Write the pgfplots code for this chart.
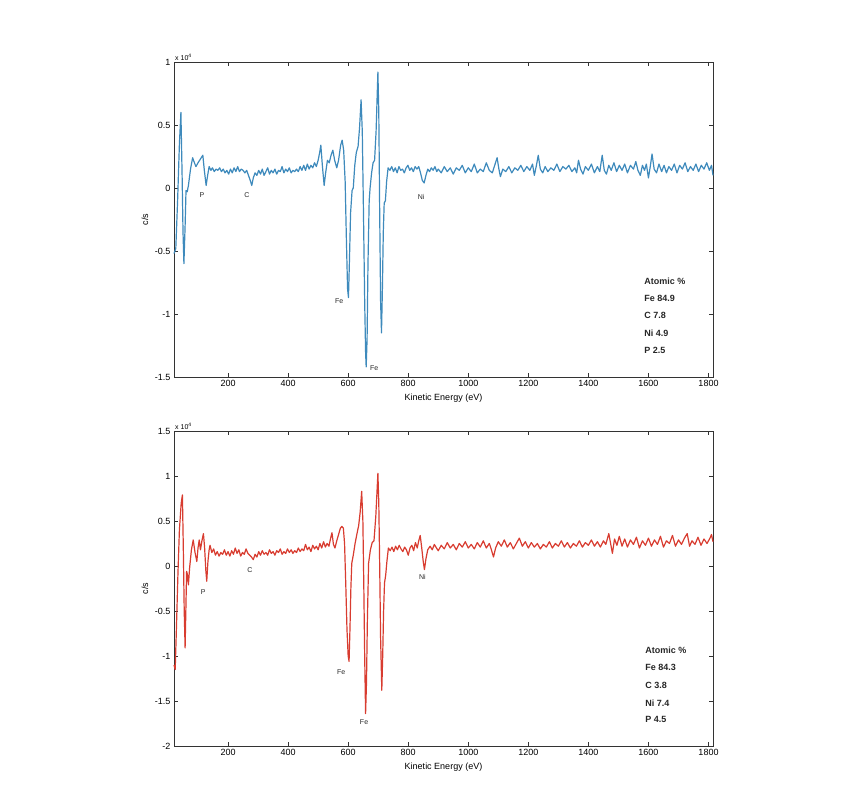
\documentclass[border=0pt]{standalone}
\usepackage{fontspec}
\setmainfont{Liberation Sans}
\usepackage{pgfplots}
\pgfplotsset{compat=1.18}
\definecolor{topblue}{RGB}{62,138,188}
\definecolor{botred}{RGB}{216,60,48}
\pgfplotsset{
  common/.style={
    width=539pt, height=315pt, scale only axis,
    xmin=20, xmax=1815,
    xtick={200,400,...,1800},
    tick label style={font=\fontsize{9}{10}\selectfont},
    label style={font=\fontsize{9}{10}\selectfont},
    /pgf/number format/assume math mode=true,
    /pgf/number format/1000 sep={},
    xlabel={Kinetic Energy (eV)},
    ylabel={c/s},
    axis line style={black!80, line width=0.9pt},
    tick style={black!80, line width=0.8pt},
    major tick length=4pt,
    clip=false,
  },
}
\tikzset{
  elab/.style={font=\fontsize{7}{8}\selectfont, black!85},
  atom/.style={font=\bfseries\fontsize{9}{10}\selectfont, anchor=west, black!85},
}
\begin{document}
\begin{tikzpicture}
\useasboundingbox (0,0) rectangle (850pt,790pt);
% ---------------- top panel ----------------
\begin{axis}[common, at={(174pt,413pt)}, anchor=south west,
  ymin=-1.5, ymax=1, ytick={-1.5,-1,...,1}]
\addplot[topblue, line width=1.2pt, line join=round] table {
x y
20 -0.52
26 -0.48
32 -0.10
38 0.35
43 0.60
47 0.10
50 -0.35
53 -0.60
57 -0.30
60 -0.02
64 -0.03
68 0.02
75 0.15
82 0.24
88 0.20
93 0.17
100 0.20
108 0.23
116 0.26
121 0.14
127 0.02
132 0.10
137 0.17
143 0.14
148 0.16
154 0.13
160 0.15
166 0.14
172 0.16
178 0.13
184 0.15
190 0.12
196 0.14
202 0.11
208 0.15
214 0.12
220 0.16
226 0.13
232 0.17
238 0.13
244 0.15
250 0.14
256 0.12
262 0.14
268 0.10
274 0.06
279 0.02
284 0.08
290 0.12
296 0.10
302 0.14
308 0.11
314 0.15
320 0.10
326 0.13
332 0.16
338 0.11
344 0.14
350 0.12
356 0.15
362 0.11
368 0.14
374 0.13
380 0.17
386 0.12
392 0.15
398 0.13
404 0.16
410 0.12
416 0.14
422 0.13
428 0.15
434 0.13
440 0.17
446 0.14
452 0.18
458 0.14
464 0.19
470 0.15
476 0.18
482 0.16
488 0.20
494 0.17
500 0.22
505 0.28
509 0.34
514 0.18
520 0.02
525 0.12
531 0.22
537 0.20
543 0.26
549 0.30
555 0.22
562 0.16
568 0.22
575 0.34
580 0.38
585 0.30
590 0.05
594 -0.40
598 -0.80
601 -0.87
604 -0.60
608 -0.20
613 -0.02
617 0.00
622 0.18
627 0.28
633 0.33
638 0.48
643 0.70
647 0.45
651 -0.20
655 -0.90
658 -1.30
660 -1.42
663 -1.20
666 -0.60
670 -0.10
673 0.00
678 0.12
683 0.20
688 0.22
693 0.45
699 0.92
702 0.60
705 -0.20
708 -0.90
711 -1.15
714 -0.80
717 -0.35
720 -0.12
724 -0.10
728 0.05
733 0.16
739 0.14
745 0.17
751 0.13
757 0.16
763 0.12
769 0.17
775 0.14
781 0.15
787 0.12
793 0.16
799 0.18
805 0.14
811 0.16
817 0.13
823 0.17
829 0.15
835 0.17
841 0.12
847 0.06
853 0.04
859 0.10
865 0.15
871 0.13
877 0.16
883 0.14
889 0.17
895 0.13
900 0.15
910 0.12
920 0.17
930 0.13
940 0.16
950 0.11
960 0.16
970 0.14
980 0.18
990 0.12
1000 0.16
1010 0.13
1020 0.19
1030 0.12
1040 0.15
1050 0.13
1060 0.20
1070 0.14
1080 0.12
1088 0.18
1096 0.24
1102 0.15
1107 0.09
1115 0.15
1125 0.13
1135 0.17
1145 0.12
1155 0.16
1165 0.14
1175 0.18
1185 0.13
1195 0.17
1205 0.14
1214 0.19
1220 0.10
1227 0.18
1233 0.26
1240 0.15
1248 0.12
1256 0.17
1265 0.13
1275 0.16
1285 0.14
1295 0.19
1305 0.13
1315 0.17
1325 0.15
1335 0.18
1345 0.13
1355 0.16
1361 0.12
1367 0.22
1374 0.15
1382 0.11
1390 0.17
1400 0.14
1410 0.19
1420 0.12
1430 0.17
1438 0.13
1446 0.26
1453 0.14
1460 0.11
1468 0.18
1476 0.14
1485 0.20
1494 0.13
1503 0.18
1512 0.14
1521 0.19
1530 0.12
1540 0.18
1550 0.15
1558 0.21
1565 0.14
1573 0.10
1580 0.18
1587 0.14
1593 0.19
1600 0.08
1606 0.17
1612 0.27
1619 0.15
1627 0.12
1635 0.19
1644 0.13
1652 0.18
1660 0.12
1668 0.17
1677 0.14
1686 0.19
1695 0.12
1704 0.18
1713 0.15
1722 0.20
1731 0.13
1740 0.17
1749 0.14
1758 0.19
1767 0.13
1776 0.18
1785 0.15
1794 0.20
1803 0.14
1810 0.18
1815 0.10
};
\node[font=\fontsize{7}{8}\selectfont, anchor=south west, inner sep=1pt] at (rel axis cs:0,1) {x 10\textsuperscript{4}};
\node[elab] at (axis cs:113,-0.055) {P};
\node[elab] at (axis cs:263,-0.055) {C};
\node[elab] at (axis cs:843,-0.07) {Ni};
\node[elab] at (axis cs:570,-0.90) {Fe};
\node[elab] at (axis cs:687,-1.43) {Fe};
\node[atom] at (axis cs:1575,-0.74) {Atomic \%};
\node[atom] at (axis cs:1575,-0.875) {Fe 84.9};
\node[atom] at (axis cs:1575,-1.01) {C 7.8};
\node[atom] at (axis cs:1575,-1.15) {Ni 4.9};
\node[atom] at (axis cs:1575,-1.29) {P 2.5};
\end{axis}
% ---------------- bottom panel ----------------
\begin{axis}[common, at={(174pt,44pt)}, anchor=south west,
  ymin=-2, ymax=1.5, ytick={-2,-1.5,...,1.5}]
\addplot[botred, line width=1.2pt, line join=round] table {
x y
20 -1.10
24 -1.15
28 -0.70
33 -0.10
38 0.40
44 0.70
48 0.79
51 0.20
54 -0.50
57 -0.91
60 -0.40
62 -0.06
65 -0.10
68 -0.21
72 -0.02
78 0.18
84 0.29
90 0.15
96 0.05
100 0.20
104 0.29
108 0.18
113 0.28
118 0.36
122 0.20
126 -0.05
129 -0.17
133 0.05
137 0.18
140 0.23
146 0.15
152 0.19
158 0.12
164 0.16
170 0.11
176 0.15
182 0.13
188 0.18
194 0.12
200 0.16
206 0.11
212 0.17
218 0.13
224 0.20
230 0.14
236 0.18
242 0.11
248 0.15
254 0.13
260 0.19
266 0.14
272 0.12
278 0.10
284 0.07
290 0.13
296 0.10
302 0.16
308 0.12
314 0.17
320 0.13
326 0.15
332 0.12
338 0.18
344 0.14
350 0.16
356 0.12
362 0.17
368 0.15
374 0.19
380 0.13
386 0.16
392 0.14
398 0.19
404 0.15
410 0.18
416 0.14
422 0.17
428 0.15
434 0.20
440 0.16
446 0.19
452 0.17
458 0.24
464 0.18
470 0.21
476 0.16
482 0.23
488 0.19
494 0.22
500 0.18
506 0.25
512 0.20
518 0.27
524 0.21
530 0.25
536 0.22
541 0.30
546 0.37
551 0.24
556 0.20
562 0.28
568 0.35
574 0.42
579 0.44
584 0.42
588 0.25
592 -0.20
596 -0.70
600 -1.00
603 -1.06
606 -0.70
609 -0.25
612 0.03
617 0.12
623 0.25
630 0.37
635 0.45
640 0.60
645 0.83
649 0.50
652 -0.20
655 -1.00
658 -1.64
661 -1.30
664 -0.60
668 0.03
674 0.18
680 0.26
686 0.28
692 0.55
699 1.03
702 0.70
705 0.00
708 -0.80
712 -1.38
715 -1.00
718 -0.50
721 -0.19
725 -0.10
729 0.05
734 0.20
740 0.17
746 0.21
752 0.16
758 0.22
764 0.18
770 0.23
776 0.19
782 0.16
788 0.21
794 0.18
800 0.12
806 0.20
812 0.23
818 0.17
824 0.26
830 0.20
835 0.28
840 0.34
845 0.20
850 0.05
854 -0.04
859 0.08
865 0.18
873 0.22
880 0.18
887 0.24
894 0.20
900 0.17
910 0.23
920 0.19
930 0.26
940 0.20
950 0.24
960 0.18
970 0.25
980 0.21
990 0.27
1000 0.20
1010 0.24
1020 0.19
1030 0.26
1040 0.21
1050 0.28
1060 0.20
1070 0.25
1077 0.18
1084 0.10
1091 0.20
1100 0.27
1110 0.22
1120 0.29
1130 0.21
1140 0.26
1150 0.19
1160 0.25
1170 0.31
1180 0.22
1190 0.27
1200 0.20
1210 0.26
1220 0.21
1230 0.25
1240 0.19
1250 0.24
1260 0.21
1270 0.27
1280 0.20
1290 0.25
1300 0.22
1310 0.28
1320 0.21
1330 0.26
1340 0.20
1350 0.25
1360 0.22
1370 0.28
1380 0.21
1390 0.26
1400 0.23
1410 0.29
1420 0.22
1430 0.27
1440 0.21
1450 0.28
1458 0.24
1468 0.36
1474 0.25
1480 0.14
1487 0.30
1495 0.23
1503 0.33
1512 0.22
1521 0.30
1530 0.21
1540 0.29
1550 0.24
1560 0.32
1570 0.20
1580 0.28
1590 0.23
1600 0.31
1610 0.22
1620 0.29
1630 0.24
1640 0.33
1650 0.21
1660 0.28
1670 0.25
1680 0.34
1690 0.22
1700 0.29
1710 0.24
1720 0.31
1729 0.36
1737 0.22
1745 0.28
1755 0.24
1765 0.32
1775 0.23
1785 0.30
1795 0.25
1805 0.31
1810 0.35
1815 0.27
};
\node[font=\fontsize{7}{8}\selectfont, anchor=south west, inner sep=1pt] at (rel axis cs:0,1) {x 10\textsuperscript{4}};
\node[elab] at (axis cs:117,-0.29) {P};
\node[elab] at (axis cs:273,-0.04) {C};
\node[elab] at (axis cs:847,-0.12) {Ni};
\node[elab] at (axis cs:577,-1.18) {Fe};
\node[elab] at (axis cs:653,-1.73) {Fe};
\node[atom] at (axis cs:1578,-0.94) {Atomic \%};
\node[atom] at (axis cs:1578,-1.13) {Fe 84.3};
\node[atom] at (axis cs:1578,-1.33) {C 3.8};
\node[atom] at (axis cs:1578,-1.52) {Ni 7.4};
\node[atom] at (axis cs:1578,-1.71) {P 4.5};
\end{axis}
\end{tikzpicture}
\end{document}
